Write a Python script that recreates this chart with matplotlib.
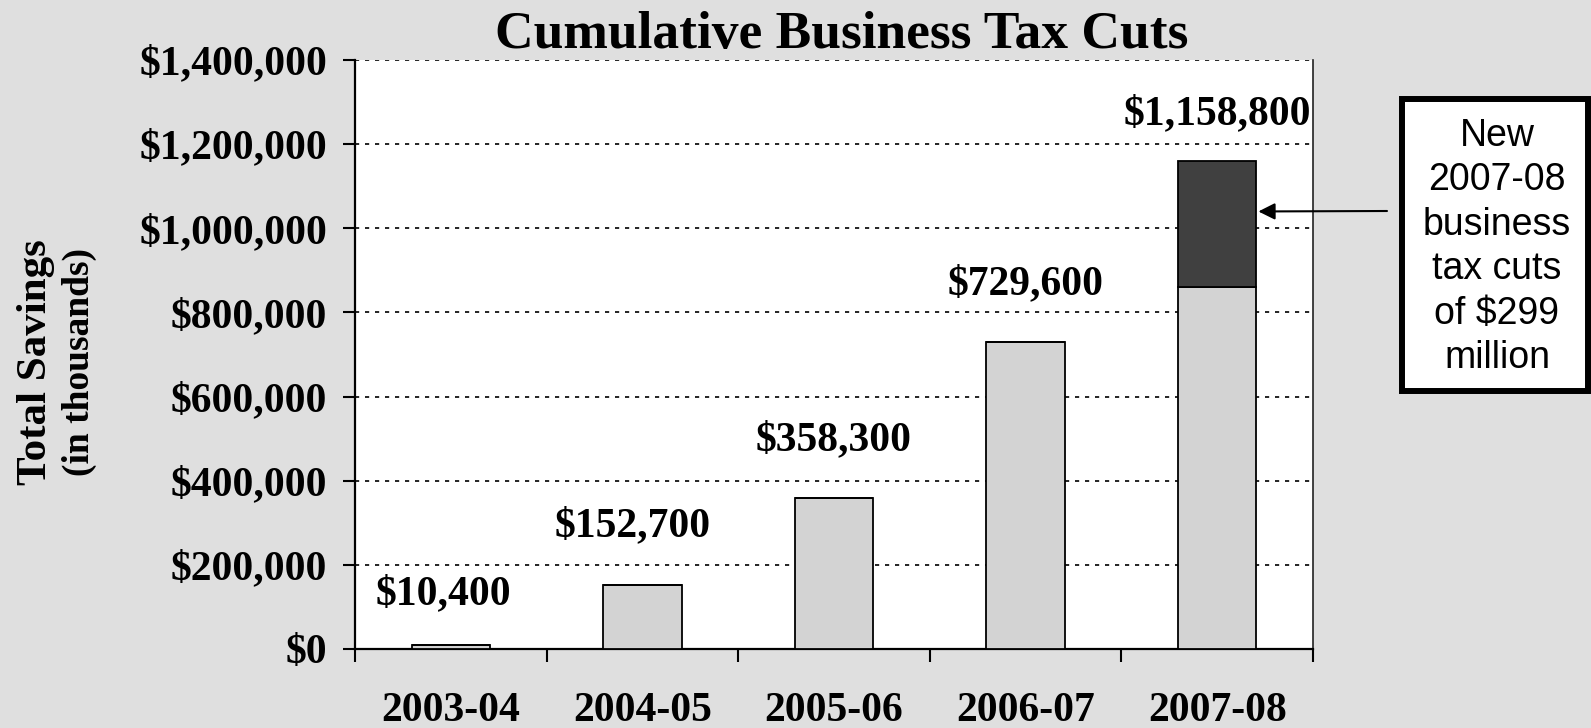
import matplotlib
matplotlib.use("Agg")
import matplotlib.pyplot as plt
from matplotlib.patches import Rectangle
import numpy as np

# data (thousands of dollars)
years = ['2003-04', '2004-05', '2005-06', '2006-07', '2007-08']
prior_cuts = [10400, 152700, 358300, 729600, 859800]
new_cuts = [0, 0, 0, 0, 299000]
totals = [10400, 152700, 358300, 729600, 1158800]
yticks = [0, 200000, 400000, 600000, 800000, 1000000, 1200000, 1400000]
box_text = 'New\n2007-08\nbusiness\ntax cuts\nof $299\nmillion'

W, H = 1591, 728
bg = '#dfdfdf'
serif = 'Liberation Serif'

fig = plt.figure(figsize=(W / 100, H / 100), dpi=100, facecolor=bg)
ax = fig.add_axes([355 / W, 1 - 649 / H, (1313 - 355) / W, (649 - 60) / H])
ax.set_facecolor('white')

x = np.arange(len(years))
bw = 0.41
ax.bar(x, prior_cuts, width=bw, color='#d3d3d3', edgecolor='black', linewidth=1.3, zorder=3)
ax.bar(x, new_cuts, width=bw, bottom=prior_cuts, color='#404040', edgecolor='black',
       linewidth=1.3, zorder=3)

ax.set_xlim(-0.5, 4.5)
ax.set_ylim(0, 1400000)

# y axis
ax.set_yticks(yticks)
ax.set_yticklabels(['${:,}'.format(v) for v in yticks])
ax.yaxis.grid(True, color='black', linestyle=(0, (2.5, 3.5)), linewidth=1.2)
ax.set_axisbelow(True)

# x axis: ticks on boundaries, labels in the middle
ax.set_xticks(np.arange(-0.5, 5, 1))
ax.set_xticklabels([])
ax.set_xticks(x, minor=True)
ax.set_xticklabels(years, minor=True)
ax.tick_params(axis='x', which='minor', length=0, pad=31)
ax.tick_params(axis='both', which='major', direction='out', length=9, width=1.5)
ax.tick_params(axis='y', pad=11)

for lab in ax.get_xticklabels(minor=True) + ax.get_yticklabels():
    lab.set_fontfamily(serif)
    lab.set_fontweight('bold')
    lab.set_fontsize(30)

ax.spines['top'].set_visible(False)
ax.spines['left'].set_linewidth(1.6)
ax.spines['bottom'].set_linewidth(1.6)
ax.spines['right'].set_linewidth(1.2)
ax.spines['right'].set_color('#222222')

# value labels
label_offsets = [(-5, 36), (-7, 42), (0, 42), (0, 42), (0, 34)]
for i, v in enumerate(totals):
    ax.annotate('${:,}'.format(v), (x[i], v), xytext=label_offsets[i], textcoords='offset points',
                ha='center', va='center', fontsize=30, fontweight='bold', family=serif,
                annotation_clip=False)

# title and y label
fig.text(842 / W, 1 - 48 / H, 'Cumulative Business Tax Cuts', ha='center', va='baseline',
         fontsize=38.5, fontweight='bold', family=serif)
fig.text(36 / W, 1 - 362 / H, 'Total Savings', rotation=90, ha='center', va='center',
         fontsize=31, fontweight='bold', family=serif)
fig.text(79 / W, 1 - 362 / H, '(in thousands)', rotation=90, ha='center', va='center',
         fontsize=27, fontweight='bold', family=serif)

# callout box
fig.patches.append(Rectangle((1402 / W, 1 - 391 / H), (1588 - 1402) / W, (391 - 99) / H,
                             transform=fig.transFigure, facecolor='white', edgecolor='black',
                             linewidth=4.3, zorder=5))
fig.text(1497 / W, 1 - 247 / H, box_text, ha='center', va='center', fontsize=27,
         family='Liberation Sans', linespacing=1.3, zorder=6)

ax.annotate('', xy=(x[-1] + bw / 2 + 0.01, 1040000), xytext=(1387 / W, 1 - 211 / H),
            textcoords='figure fraction',
            arrowprops=dict(arrowstyle='-|>', color='black', lw=1.5, mutation_scale=25,
                            shrinkA=0, shrinkB=0))

fig.savefig('out.png', dpi=100, facecolor=bg)
